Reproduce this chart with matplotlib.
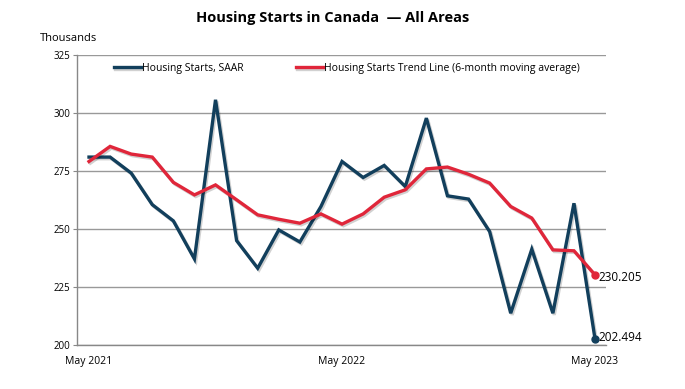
import matplotlib
matplotlib.use("Agg")
import matplotlib.pyplot as plt
import matplotlib.patheffects as pe
import numpy as np

months = ["May 2021", "Jun 2021", "Jul 2021", "Aug 2021", "Sep 2021", "Oct 2021",
          "Nov 2021", "Dec 2021", "Jan 2022", "Feb 2022", "Mar 2022", "Apr 2022",
          "May 2022", "Jun 2022", "Jul 2022", "Aug 2022", "Sep 2022", "Oct 2022",
          "Nov 2022", "Dec 2022", "Jan 2023", "Feb 2023", "Mar 2023", "Apr 2023",
          "May 2023"]
starts_saar = [281.0, 281.0, 274.1, 260.5, 253.5, 237.1, 305.7, 245.0, 233.1, 249.6,
               244.4, 259.7, 279.1, 272.2, 277.4, 268.3, 297.8, 264.3, 262.9, 248.9,
               213.7, 241.3, 213.7, 261.1, 202.494]
trend_6m = [279.1, 285.6, 282.3, 281.0, 270.1, 264.7, 269.0, 262.6, 256.1, 254.2,
            252.5, 256.5, 252.1, 256.5, 263.7, 266.9, 275.9, 276.7, 273.6, 269.8,
            259.7, 254.7, 241.0, 240.6, 230.205]
tick_labels = ["May 2021", "May 2022", "May 2023"]

navy = "#123f5c"
red = "#e0263a"
font = "Open Sans"

x = np.arange(len(months))

fig = plt.figure(figsize=(6.85, 3.89), dpi=100)
ax = fig.add_axes([0.1124, 0.1131, 0.7723, 0.7455])

# soft excel-style drop shadow
shadow = [pe.SimpleLineShadow(offset=(1.0, -1.2), alpha=0.18), pe.Normal()]
ax.plot(x, starts_saar, color=navy, lw=2.4, label="Housing Starts, SAAR",
        path_effects=shadow, solid_joinstyle="miter")
ax.plot(x, trend_6m, color=red, lw=2.4,
        label="Housing Starts Trend Line (6-month moving average)",
        path_effects=shadow, solid_joinstyle="miter")

# end-point markers and labels
ax.plot(x[-1], starts_saar[-1], "o", color=navy, ms=5)
ax.plot(x[-1], trend_6m[-1], "o", color=red, ms=5)
ax.annotate(f"{starts_saar[-1]:.3f}", (x[-1], starts_saar[-1]), xytext=(2.5, 1.5),
            textcoords="offset points", va="center", fontsize=8.5, family=font)
ax.annotate(f"{trend_6m[-1]:.3f}", (x[-1], trend_6m[-1]), xytext=(2.5, -1.5),
            textcoords="offset points", va="center", fontsize=8.5, family=font)

ax.set_xlim(-0.57, 24.52)
ax.set_ylim(200, 325)
ax.set_yticks([200, 225, 250, 275, 300, 325])
ax.set_xticks([months.index(t) for t in tick_labels])
ax.set_xticklabels(tick_labels, family=font, fontsize=7.5)
for lbl in ax.get_yticklabels():
    lbl.set_family(font)
    lbl.set_fontsize(7)
ax.tick_params(axis="x", length=0, pad=8)
ax.tick_params(axis="y", length=3, color="#888888", pad=2)
ax.yaxis.grid(True, color="#999999", lw=1)
ax.set_axisbelow(True)
for side in ["top", "right"]:
    ax.spines[side].set_visible(False)
for side in ["left", "bottom"]:
    ax.spines[side].set_color("#888888")
    ax.spines[side].set_linewidth(1)

leg = ax.legend(loc="center", bbox_to_anchor=(0.51, 0.955), ncol=2, frameon=False,
                handlelength=2.6, columnspacing=5.0, handletextpad=0.1,
                prop={"family": font, "size": 7.5})

fig.text(0.485, 0.955, "Housing Starts in Canada  \u2014 All Areas", ha="center",
         va="center", fontsize=10.5, fontweight="bold", family=font)
fig.text(0.058, 0.902, "Thousands", ha="left", va="center", fontsize=8, family=font)

fig.savefig("out.png", dpi=100)
